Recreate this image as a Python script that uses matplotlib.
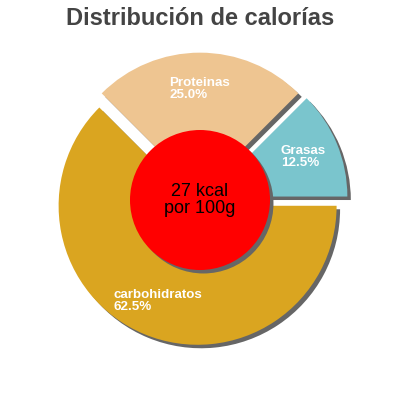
import numpy as np
import matplotlib
matplotlib.use("Agg")
import matplotlib.pyplot as plt
from matplotlib.patches import Wedge, Circle

plt.rcParams["font.family"] = ["Liberation Sans", "DejaVu Sans"]

# data
labels  = ["Grasas", "Proteinas", "carbohidratos"]
shares  = [12.5, 25.0, 62.5]
colors  = ["#7AC5CD", "#EEC591", "#DAA520"]
explode = [0.065, 0.06, 0.045]
title   = "Distribución de calorías"
center_text = "27 kcal\npor 100g"

SHADOW = "#666666"
SH_OFF = (0.025, -0.025)

fig = plt.figure(figsize=(4, 4), dpi=100)
ax = fig.add_axes([0, 0, 1, 1])

wedges, _ = ax.pie(shares, colors=colors, explode=explode, startangle=0,
                   counterclock=True, radius=1, frame=True,
                   wedgeprops=dict(linewidth=0, zorder=2))
ax.set_xlim(-200 / 139, 200 / 139)
ax.set_ylim(-200 / 139, 200 / 139)
ax.set_aspect("equal")
ax.axis("off")

for w, lab, s in zip(wedges, labels, shares):
    cx, cy = w.center
    # shadow under each slice
    ax.add_patch(Wedge((cx + SH_OFF[0], cy + SH_OFF[1]), w.r, w.theta1, w.theta2,
                       facecolor=SHADOW, linewidth=0, zorder=1))
    mid = np.deg2rad((w.theta1 + w.theta2) / 2)
    tx = cx + 0.74 * np.cos(mid)
    ty = cy + 0.74 * np.sin(mid)
    ax.text(tx, ty, f"{lab}\n{s:.1f}%", color="white", fontsize=9.6,
            fontweight="bold", ha="center", va="center",
            multialignment="left", linespacing=0.95, zorder=5)

# centre disc
R = 70 / 139
ax.add_patch(Circle((SH_OFF[0], SH_OFF[1]), R, facecolor=SHADOW, linewidth=0, zorder=3))
ax.add_patch(Circle((0, 0), R, facecolor="#FF0000", linewidth=0, zorder=4))
ax.text(0, 0.0, center_text, ha="center", va="center", fontsize=13,
        color="black", linespacing=0.95, zorder=6)

fig.text(0.5, 1 - 25 / 400, title, ha="center", va="baseline",
         fontsize=17, fontweight="bold", color="#444444")

fig.savefig("out.png", dpi=100)
